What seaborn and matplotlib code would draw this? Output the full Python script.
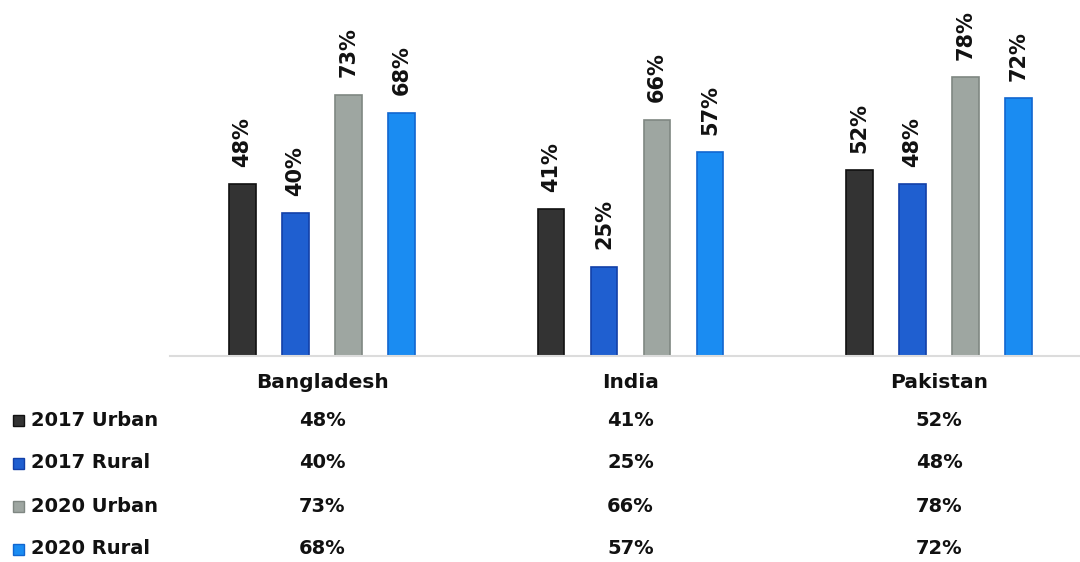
import matplotlib
matplotlib.use("Agg")
import matplotlib.pyplot as plt
import seaborn as sns
import pandas as pd
from matplotlib.patches import Rectangle

countries = ["Bangladesh", "India", "Pakistan"]
series = ["2017 Urban", "2017 Rural", "2020 Urban", "2020 Rural"]
urban_2017 = [48, 41, 52]
rural_2017 = [40, 25, 48]
urban_2020 = [73, 66, 78]
rural_2020 = [68, 57, 72]
colors = ["#333333", "#1f5fd0", "#9ea6a1", "#1a8cf2"]
edges = ["#111111", "#1240a8", "#7f8782", "#1166d0"]

values = [urban_2017, rural_2017, urban_2020, rural_2020]
rows = []
for s, vals in zip(series, values):
    for c, v in zip(countries, vals):
        rows.append({"country": c, "series": s, "value": v})
df = pd.DataFrame(rows)

sns.set_theme(style="white")
plt.rcParams["font.family"] = ["DejaVu Sans"]

W, H = 1080, 562
fig = plt.figure(figsize=(W / 100, H / 100), dpi=100)
ax_left, ax_right = 170 / W, 1080 / W
ax_bottom = 1 - 356 / H
ax = fig.add_axes([ax_left, ax_bottom, ax_right - ax_left, 1 - ax_bottom])

sns.barplot(data=df, x="country", y="value", hue="series", order=countries,
            hue_order=series, palette=colors, width=0.687, gap=0.5,
            saturation=1, ax=ax, legend=False)

for cont, ec in zip(ax.containers, edges):
    for bar in cont:
        bar.set_edgecolor(ec)
        bar.set_linewidth(1.2)
    ax.bar_label(cont, labels=[f"{int(round(b.get_height()))}%" for b in cont],
                 rotation=90, padding=12.5, fontsize=15, fontweight="bold",
                 color="#111111")

ax.set_xlim(-0.493, 2.457)
ax.set_ylim(0, 99.5)
ax.set_xlabel("")
ax.set_ylabel("")
ax.set_yticks([])
ax.tick_params(axis="x", length=0, pad=12, labelsize=14.5)
for lab in ax.get_xticklabels():
    lab.set_fontweight("bold")
    lab.set_color("#111111")
for s in ["top", "left", "right"]:
    ax.spines[s].set_visible(False)
ax.spines["bottom"].set_color("#dcdcdc")
ax.spines["bottom"].set_linewidth(1.5)

# data table
row_y = [420, 463, 506, 549]
x_pos = [0, 1, 2]
for s, vals, col, ec, ry in zip(series, values, colors, edges, row_y):
    yf = 1 - ry / H
    fig.patches.append(Rectangle((13 / W, yf - 5.5 / H), 11 / W, 11 / H,
                                 transform=fig.transFigure, facecolor=col,
                                 edgecolor=ec, linewidth=1))
    fig.text(31 / W, yf, s, fontsize=14, fontweight="bold", va="center",
             ha="left", color="#111111")
    for xp, v in zip(x_pos, vals):
        xd = ax.transData.transform((xp, 0))[0]
        xf = fig.transFigure.inverted().transform((xd, 0))[0]
        fig.text(xf, yf, f"{v}%", fontsize=14, fontweight="bold",
                 va="center", ha="center", color="#111111")

fig.savefig("out.png", dpi=100, facecolor="white")
